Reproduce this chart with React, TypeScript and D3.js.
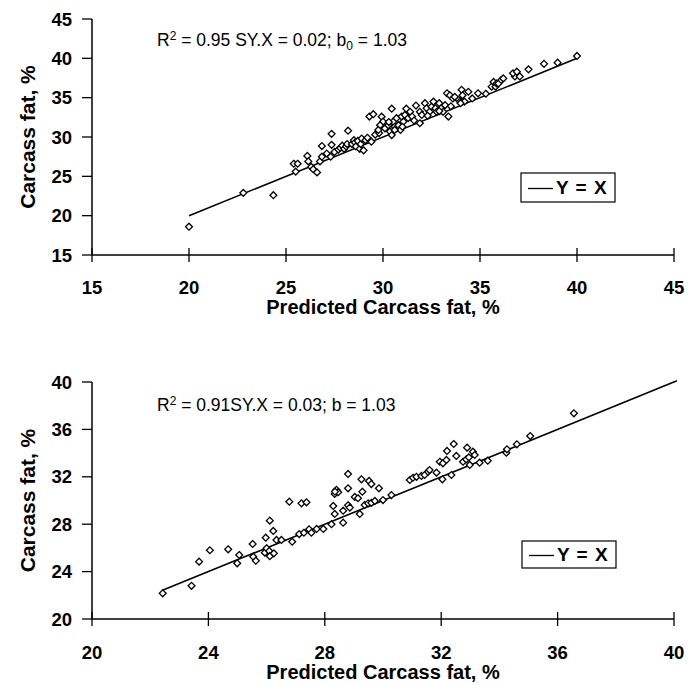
import React from "react";
import * as d3 from "d3";

// ---------- Data ----------
const topTicks = [15, 20, 25, 30, 35, 40, 45];
const bottomTicks = [20, 24, 28, 32, 36, 40];

const topPredicted = [
  20.0, 22.8, 24.35, 25.4, 25.6, 25.5, 26.1, 26.15, 26.3, 26.4, 26.6, 26.75, 26.85, 26.85, 27.1, 27.3, 27.35, 27.35,
  27.5, 27.7, 27.8, 27.9, 28.0, 28.1, 28.15, 28.2, 28.4, 28.5, 28.55, 28.6, 28.7, 28.8, 28.85, 28.9, 29.0, 29.4,
  29.3, 29.5, 29.1, 29.2, 29.6, 29.8, 29.93, 30.0, 29.85, 29.76, 30.1, 30.27, 30.36, 30.45, 30.53, 30.6, 30.7, 30.8,
  30.9, 30.96, 31.05, 31.13, 31.2, 31.3, 31.4, 31.5, 30.45, 30.3, 30.6, 31.0, 31.7, 31.9, 31.9, 31.6, 32.0, 32.16,
  32.25, 32.4, 32.5, 32.6, 32.7, 32.77, 32.9, 33.0, 33.1, 33.2, 33.3, 33.37, 32.3, 32.9, 33.45, 33.6, 33.7, 33.9,
  33.97, 34.05, 34.1, 34.2, 34.4, 33.5, 34.0, 34.6, 34.9, 35.3, 35.6, 35.7, 35.8, 35.85, 35.95, 36.1, 36.2, 36.8,
  36.7, 36.9, 37.05, 37.5, 38.3, 39.0, 40.0
];
const topActual = [
  18.6, 22.9, 22.6, 26.6, 26.6, 25.6, 27.6, 26.9, 26.2, 25.9, 25.5, 26.9, 27.5, 28.85, 27.9, 27.5, 30.4, 29.0,
  28.1, 28.4, 28.6, 28.9, 28.5, 28.8, 29.1, 30.8, 29.1, 29.6, 29.3, 28.8, 29.5, 28.5, 29.1, 29.8, 28.3, 29.4,
  32.6, 32.9, 29.6, 29.9, 30.3, 30.5, 32.58, 31.95, 31.5, 30.9, 31.1, 31.5, 30.7, 30.25, 31.95, 31.3, 32.4, 31.5,
  30.9, 32.6, 31.95, 32.8, 33.6, 32.4, 33.2, 32.6, 33.6, 31.9, 30.9, 31.3, 34.0, 33.2, 31.75, 32.1, 32.8, 34.3,
  33.65, 33.2, 33.85, 34.5, 33.65, 33.2, 34.3, 33.65, 33.2, 34.05, 35.55, 32.6, 32.7, 33.3, 35.3, 34.9, 35.1, 34.7,
  34.5, 36.0, 35.3, 34.5, 35.75, 33.9, 34.3, 34.9, 35.55, 35.5, 36.4, 37.0, 36.4, 36.8, 36.8, 37.25, 37.45, 37.7,
  38.1, 38.3, 37.7, 38.6, 39.3, 39.45, 40.3
];

const bottomPredicted = [
  22.43, 23.42, 23.68, 24.05, 24.68, 24.99, 25.06, 25.52, 25.54, 25.63, 25.94, 26.0, 26.09, 26.11, 26.25, 25.97,
  26.11, 26.23, 26.34, 26.51, 26.88, 26.78, 27.2, 27.37, 27.12, 27.28, 27.46, 27.54, 27.72, 27.95, 28.23, 28.63,
  28.34, 28.63, 28.29, 28.34, 28.4, 28.46, 28.35, 28.8, 28.8, 28.8, 28.86, 29.03, 29.14, 29.2, 29.26, 29.29,
  29.37, 29.49, 29.6, 29.72, 29.52, 29.6, 29.86, 30.0, 30.29, 30.92, 31.03, 31.15, 31.32, 31.43, 31.55, 31.6,
  31.84, 32.04, 32.35, 31.95, 32.06, 32.18, 32.2, 32.43, 32.52, 32.75, 32.86, 32.95, 32.89, 33.09, 33.15, 32.98,
  33.32, 33.6, 34.24, 34.26, 34.6, 35.06, 36.56
];
const bottomActual = [
  22.17, 22.8, 24.84, 25.8, 25.88, 24.7, 25.4, 26.33, 25.26, 24.92, 25.6, 25.97, 25.74, 25.3, 25.54, 26.86,
  28.3, 27.43, 26.67, 26.67, 26.52, 29.9, 29.76, 29.85, 27.17, 27.28, 27.57, 27.28, 27.6, 27.6, 28.0, 28.13,
  28.86, 29.14, 29.54, 30.55, 30.9, 30.7, 30.75, 32.24, 31.03, 29.6, 29.4, 30.3, 30.19, 28.86, 31.79, 30.74,
  29.62, 29.76, 29.8, 29.96, 31.65, 31.39, 31.03, 30.04, 30.46, 31.73, 31.92, 32.0, 32.07, 32.15, 32.43, 32.57,
  32.35, 31.79, 32.15, 33.27, 33.14, 33.42, 34.18, 34.77, 33.76, 33.27, 33.47, 33.64, 34.46, 34.12, 33.84, 33.0,
  33.19, 33.36, 34.03, 34.32, 34.74, 35.44, 37.36
];

const yTitle = "Carcass fat, %";
const xTitle = "Predicted Carcass fat, %";
const legendLabel = "Y = X";

const FONT = "'Liberation Sans', Arial, Helvetica, sans-serif";

type PanelProps = {
  xs: number[];
  ys: number[];
  ticks: number[];
  xRange: [number, number];
  yRange: [number, number];
  lineFrom: number;
  lineTo: number;
  annotation: React.ReactNode;
  annY: number;
  tickLabelY: number;
  xTitleY: number;
  legend: { x: number; y: number; w: number; h: number };
};

function Panel(p: PanelProps) {
  const dom: [number, number] = [p.ticks[0], p.ticks[p.ticks.length - 1]];
  const x = d3.scaleLinear().domain(dom).range(p.xRange);
  const y = d3.scaleLinear().domain(dom).range(p.yRange);
  const x0 = p.xRange[0];
  const yb = p.yRange[0];
  const diamond = d3.symbol(d3.symbolDiamond2, 30)() as string;
  const lineGen = d3.line<number>().x((d) => x(d)).y((d) => y(d));
  const midY = (p.yRange[0] + p.yRange[1]) / 2;
  const midX = (p.xRange[0] + p.xRange[1]) / 2;
  return (
    <g>
      {/* axes */}
      <line x1={x0} x2={x0} y1={p.yRange[0]} y2={p.yRange[1]} stroke="#000" strokeWidth={1.5} />
      <line x1={p.xRange[0]} x2={p.xRange[1]} y1={yb} y2={yb} stroke="#000" strokeWidth={1.5} />
      {p.ticks.map((t) => (
        <g key={"y" + t}>
          <line x1={x0 - 10} x2={x0} y1={y(t)} y2={y(t)} stroke="#000" strokeWidth={1.3} />
          <text x={72} y={y(t)} dy="0.36em" textAnchor="end" fontFamily={FONT} fontWeight="bold" fontSize={18.5}>
            {t}
          </text>
        </g>
      ))}
      {p.ticks.map((t) => (
        <g key={"x" + t}>
          <line x1={x(t)} x2={x(t)} y1={yb - 7} y2={yb + 7} stroke="#000" strokeWidth={1.3} />
          <text x={x(t)} y={p.tickLabelY} textAnchor="middle" fontFamily={FONT} fontWeight="bold" fontSize={18.5}>
            {t}
          </text>
        </g>
      ))}
      {/* titles */}
      <text
        transform={`translate(35,${midY}) rotate(-90)`}
        textAnchor="middle"
        fontFamily={FONT}
        fontWeight="bold"
        fontSize={21}
      >
        {yTitle}
      </text>
      <text x={midX} y={p.xTitleY} textAnchor="middle" fontFamily={FONT} fontWeight="bold" fontSize={20}>
        {xTitle}
      </text>
      {/* annotation */}
      <text x={157} y={p.annY} fontFamily={FONT} fontSize={17.5}>
        {p.annotation}
      </text>
      {/* Y = X line */}
      <path d={lineGen([p.lineFrom, p.lineTo]) as string} fill="none" stroke="#000" strokeWidth={1.6} />
      {/* points */}
      {p.xs.map((v, i) => (
        <path
          key={i}
          d={diamond}
          transform={`translate(${x(v)},${y(p.ys[i])})`}
          fill="#fff"
          stroke="#000"
          strokeWidth={1.3}
        />
      ))}
      {/* legend */}
      <rect x={p.legend.x} y={p.legend.y} width={p.legend.w} height={p.legend.h} fill="#fff" stroke="#000" strokeWidth={1.2} />
      <line
        x1={p.legend.x + 7}
        x2={p.legend.x + 32}
        y1={p.legend.y + p.legend.h / 2 + 1}
        y2={p.legend.y + p.legend.h / 2 + 1}
        stroke="#000"
        strokeWidth={1.3}
      />
      <text
        x={p.legend.x + 35}
        y={p.legend.y + p.legend.h / 2}
        dy="0.36em"
        fontFamily={FONT}
        fontWeight="bold"
        fontSize={19}
        wordSpacing={2}
      >
        {legendLabel}
      </text>
    </g>
  );
}

export default function App() {
  return (
    <svg
      width={700}
      height={685}
      viewBox="0 0 700 685"
      style={{ position: "absolute", left: 0, top: 0, background: "#fff" }}
    >
      <rect width={700} height={685} fill="#fff" />
      <Panel
        xs={topPredicted}
        ys={topActual}
        ticks={topTicks}
        xRange={[92, 674]}
        yRange={[255, 19]}
        lineFrom={20}
        lineTo={40}
        annY={46}
        tickLabelY={294}
        xTitleY={314}
        legend={{ x: 521, y: 173, w: 94, h: 29 }}
        annotation={
          <>
            R<tspan fontSize={12} dy={-6}>2</tspan>
            <tspan dy={6}> = 0.95 SY.X = 0.02; b</tspan>
            <tspan fontSize={12} dy={4}>0</tspan>
            <tspan dy={-4}> = 1.03</tspan>
          </>
        }
      />
      <Panel
        xs={bottomPredicted}
        ys={bottomActual}
        ticks={bottomTicks}
        xRange={[92, 674]}
        yRange={[619, 382]}
        lineFrom={22.4}
        lineTo={40.1}
        annY={411}
        tickLabelY={659}
        xTitleY={679}
        legend={{ x: 522, y: 541, w: 94, h: 27 }}
        annotation={
          <>
            R<tspan fontSize={12} dy={-6}>2</tspan>
            <tspan dy={6}> = 0.91SY.X = 0.03; b = 1.03</tspan>
          </>
        }
      />
    </svg>
  );
}
